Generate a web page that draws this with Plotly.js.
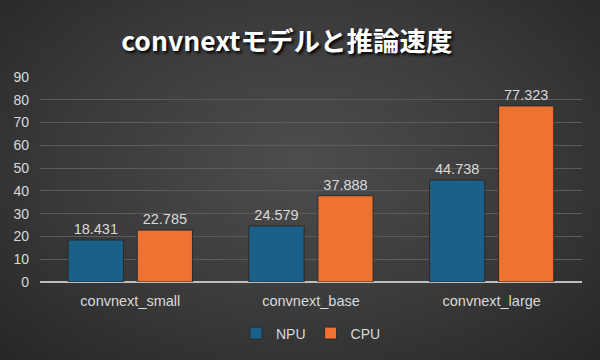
<!DOCTYPE html>
<html><head><meta charset="utf-8">
<script src="https://cdn.plot.ly/plotly-3.0.1.min.js"></script>
<style>
html,body{margin:0;padding:0;}
#chart{width:600px;height:360px;background:radial-gradient(ellipse at 50% 45%, #4d4d4d 0%, #3a3a3a 55%, #262626 100%);}
</style></head><body>
<div id="chart"></div>
<script>
const categories = ["convnext_small", "convnext_base", "convnext_large"];
const npu = [18.431, 24.579, 44.738];
const cpu = [22.785, 37.888, 77.323];
const yTicks = [0,10,20,30,40,50,60,70,80,90];

const labelFont = {family: "Liberation Sans, Arial, sans-serif", size: 14.5, color: "#d9d9d9"};
const traces = [
  {type:"bar", name:"NPU", x:categories, y:npu, text:npu.map(v=>v.toFixed(3)), textposition:"outside",
   textfont:labelFont, cliponaxis:false,
   marker:{color:"#1a6189", line:{color:"#2a2a2a", width:1}}},
  {type:"bar", name:"CPU", x:categories, y:cpu, text:cpu.map(v=>v.toFixed(3)), textposition:"outside",
   textfont:labelFont, cliponaxis:false,
   marker:{color:"#ee7231", line:{color:"#2a2a2a", width:1}}}
];
const layout = {
  width:600, height:360,
  margin:{l:40, r:18, t:77, b:77},
  paper_bgcolor:"rgba(0,0,0,0)", plot_bgcolor:"rgba(0,0,0,0)",
  title:{text:"<b>convnextモデルと推論速度</b>", x:0.478, xanchor:"center", y:0.885, yanchor:"middle",
    font:{family:"Noto Sans CJK JP, sans-serif", size:26.5, color:"#ffffff", shadow:"2px 2px 3px #000"}},
  barmode:"group", bargap:0.236, bargroupgap:0.2,
  xaxis:{tickfont:labelFont, showgrid:false, zeroline:false, showline:false, ticks:"", ticklen:0, ticklabelstandoff:8},
  yaxis:{range:[0,90], tickvals:yTicks, tickfont:{...labelFont, size:14}, gridcolor:"#5c5c5c", gridwidth:1,
    zeroline:true, zerolinecolor:"#bdbdbd", zerolinewidth:1.5, showline:false, ticks:"", ticklabelstandoff:10},
  legend:{orientation:"h", x:0.5, xanchor:"center", y:-0.245, yanchor:"middle",
    font:{family:"Liberation Sans, Arial, sans-serif", size:14, color:"#d9d9d9"}, itemwidth:30, traceorder:"normal"},
  showlegend:true
};
Plotly.newPlot("chart", traces, layout, {displayModeBar:false, staticPlot:true});
</script></body></html>
